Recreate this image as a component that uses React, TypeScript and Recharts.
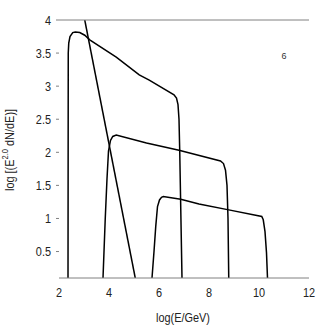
import React from "react";
import { LineChart, Line, XAxis, YAxis } from "recharts";

// x-axis ticks and y-axis ticks
const xTicks = [2, 4, 6, 8, 10, 12];
const yTicks = [0.5, 1, 1.5, 2, 2.5, 3, 3.5, 4];
const rightTicks = [0.5, 1.5, 2, 2.5, 3];

// Curve A (highest, lowest energy)
const aX = [2.36, 2.37, 2.39, 2.44, 2.55, 2.65, 2.83, 3.03, 3.23, 4.29, 5.21, 5.61, 6.6, 6.7, 6.76, 6.8, 6.83, 6.92];
const aY = [0.1, 3.5, 3.65, 3.75, 3.81, 3.82, 3.81, 3.77, 3.7, 3.44, 3.17, 3.09, 2.87, 2.82, 2.72, 2.5, 2.0, 0.1];

// Curve B
const bX = [3.76, 3.85, 3.92, 3.98, 4.06, 4.15, 4.29, 5.5, 6.8, 8.46, 8.58, 8.66, 8.72, 8.76, 8.79];
const bY = [0.1, 1.0, 1.6, 2.02, 2.18, 2.24, 2.26, 2.14, 2.03, 1.87, 1.83, 1.73, 1.5, 1.0, 0.1];

// Curve C
const cX = [5.72, 5.8, 5.87, 5.94, 6.02, 6.1, 6.17, 6.87, 7.6, 8.79, 10.11, 10.17, 10.24, 10.3, 10.34];
const cY = [0.1, 0.5, 0.88, 1.18, 1.28, 1.32, 1.33, 1.29, 1.22, 1.13, 1.03, 0.98, 0.8, 0.48, 0.1];

// Steep straight line
const sX = [3.03, 5.05];
const sY = [4.0, 0.1];

const toPts = (xs: number[], ys: number[]) => xs.map((x, i) => ({ x, y: ys[i] }));

const FONT = '"Liberation Sans", Arial, sans-serif';
const AXIS = "#808080";
const TXT = "#222";
const SX = 0.84;

const series = [toPts(aX, aY), toPts(bX, bY), toPts(cX, cY), toPts(sX, sY)];

const XTick = (props: any) => {
  const { x, y, payload } = props;
  return (
    <g transform={`translate(${x},${y}) scale(${SX},1)`}>
      <text x={0} y={0} dy="0.71em" textAnchor="middle" fontSize={13} fontFamily={FONT} fill={TXT}>
        {payload.value}
      </text>
    </g>
  );
};

const YTick = (props: any) => {
  const { x, y, payload } = props;
  return (
    <g transform={`translate(${x},${y}) scale(${SX},1)`}>
      <text x={0} y={0} dy="0.355em" textAnchor="end" fontSize={13} fontFamily={FONT} fill={TXT}>
        {payload.value}
      </text>
    </g>
  );
};

export default function App() {
  return (
    <div style={{ position: "absolute", left: 0, top: 0, background: "#fff" }}>
      <LineChart
        width={327}
        height={327}
        margin={{ top: 20, right: 18, bottom: 19, left: 0 }}
        style={{ fontFamily: FONT }}
      >
        <XAxis
          dataKey="x"
          type="number"
          domain={[2, 12]}
          ticks={xTicks}
          allowDuplicatedCategory={false}
          height={30}
          tickLine={false}
          tickSize={0}
          tickMargin={10}
          axisLine={{ stroke: AXIS }}
          tick={<XTick />}
          label={{
            content: () => (
              <g transform={`translate(183,318) scale(${SX},1)`}>
                <text x={0} y={0} textAnchor="middle" dominantBaseline="central" fontSize={13} fontFamily={FONT} fill={TXT}>
                  log(E/GeV)
                </text>
              </g>
            ),
          }}
        />
        <XAxis
          xAxisId="top"
          orientation="top"
          dataKey="x"
          type="number"
          domain={[2, 12]}
          ticks={[4]}
          mirror
          tickSize={3}
          axisLine={{ stroke: AXIS }}
          tickLine={{ stroke: AXIS }}
          tick={() => <g />}
          label={{
            content: () => (
              <text x={284} y={56} textAnchor="middle" dominantBaseline="central" fontSize={9} fontFamily={FONT} fill="#333">
                6
              </text>
            ),
          }}
        />
        <YAxis
          type="number"
          domain={[0.1, 4]}
          ticks={yTicks}
          width={59}
          axisLine={false}
          tickSize={3}
          tickMargin={5}
          tickLine={{ stroke: AXIS }}
          tick={<YTick />}
          allowDataOverflow
          label={{
            content: () => (
              <g transform={`translate(10,150) rotate(-90) scale(${SX},1)`}>
                <text x={0} y={0} textAnchor="middle" dominantBaseline="central" fontSize={13} fontFamily={FONT} fill={TXT}>
                  log [(E
                  <tspan dy={-5} fontSize={9}>2.0</tspan>
                  <tspan dy={5}> dN/dE)]</tspan>
                </text>
              </g>
            ),
          }}
        />
        <YAxis
          yAxisId="right"
          orientation="right"
          type="number"
          domain={[0.1, 4]}
          ticks={rightTicks}
          mirror
          axisLine={false}
          tickSize={3}
          tickLine={{ stroke: AXIS }}
          tick={() => <g />}
        />
        {series.map((d, i) => (
          <Line
            key={i}
            data={d}
            dataKey="y"
            type="linear"
            stroke="#000"
            strokeWidth={1.5}
            dot={false}
            activeDot={false}
            isAnimationActive={false}
          />
        ))}
      </LineChart>
    </div>
  );
}
